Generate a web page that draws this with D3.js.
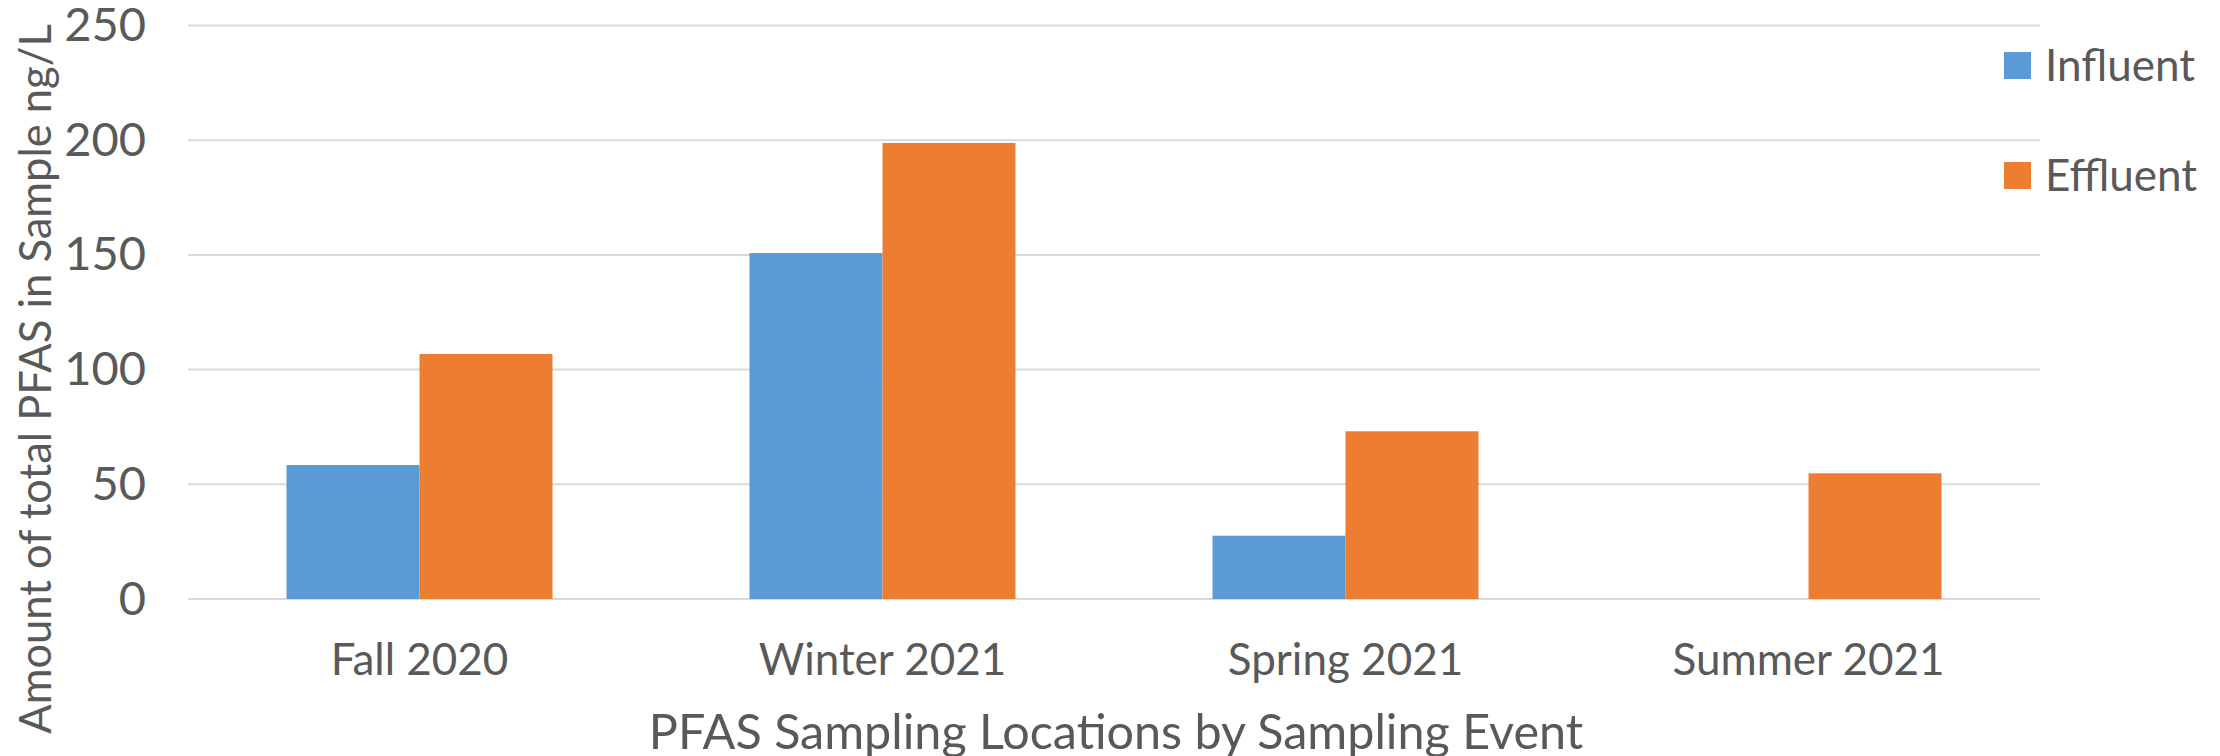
<!DOCTYPE html>
<html>
<head>
<meta charset="utf-8">
<script src="https://cdn.jsdelivr.net/npm/d3@7"></script>
<style>
  body { margin: 0; background: #fff; }
  text { font-family: Lato, "Open Sans", sans-serif; fill: #595959; }
</style>
</head>
<body>
<div id="chart"></div>
<script>
// data
var events = ["Fall 2020", "Winter 2021", "Spring 2021", "Summer 2021"];
var seriesNames = ["Influent", "Effluent"];
var influent = [58.4, 150.8, 27.6, null];
var effluent = [106.8, 198.8, 73.1, 54.8];
var yTicks = [0, 50, 100, 150, 200, 250];
var colors = ["#5b9bd5", "#ed7d31"];

var W = 2220, H = 756;
var margin = {top: 25.5, right: 180, bottom: 157, left: 188},
    width = W - margin.left - margin.right,
    height = H - margin.top - margin.bottom;

var svg = d3.select("#chart")
    .append("svg")
    .attr("width", W)
    .attr("height", H)
  .append("g")
    .attr("transform", "translate(" + margin.left + "," + margin.top + ")");

var x0 = d3.scaleBand()
    .domain(events)
    .range([0, width])
    .paddingInner(0.4255)
    .paddingOuter(0.4255 / 2);

var x1 = d3.scaleBand()
    .domain(seriesNames)
    .range([0, x0.bandwidth()]);

var y = d3.scaleLinear()
    .domain([0, 250])
    .range([height, 0]);

// gridlines
svg.append("g")
    .selectAll("line")
    .data(yTicks)
    .enter().append("line")
    .attr("x1", 0)
    .attr("x2", width)
    .attr("y1", function(d) { return y(d); })
    .attr("y2", function(d) { return y(d); })
    .attr("stroke", "#d9d9d9")
    .attr("stroke-width", 2);

// y axis labels
var yAxis = svg.append("g")
    .attr("transform", "translate(-42,0)")
    .call(d3.axisLeft(y).tickValues(yTicks).tickSize(0).tickPadding(0));
yAxis.select(".domain").remove();
yAxis.selectAll("text")
    .style("font-size", "47px")
    .attr("fill", "#595959")
    .attr("font-family", "Lato, sans-serif");

// bars
var rows = events.map(function(e, i) {
    return {event: e, values: [
        {key: "Influent", value: influent[i]},
        {key: "Effluent", value: effluent[i]}
    ]};
});

var group = svg.selectAll(".grp")
    .data(rows)
    .enter().append("g")
    .attr("class", "grp")
    .attr("transform", function(d) { return "translate(" + x0(d.event) + ",0)"; });

group.selectAll("rect")
    .data(function(d) { return d.values.filter(function(v) { return v.value != null; }); })
    .enter().append("rect")
    .attr("x", function(d) { return x1(d.key); })
    .attr("width", x1.bandwidth())
    .attr("y", function(d) { return y(d.value); })
    .attr("height", function(d) { return y(0) - y(d.value); })
    .attr("fill", function(d) { return colors[seriesNames.indexOf(d.key)]; });

// x axis labels
var xAxis = svg.append("g")
    .attr("transform", "translate(0," + height + ")")
    .call(d3.axisBottom(x0).tickSize(0).tickPadding(0));
xAxis.select(".domain").remove();
xAxis.selectAll("text")
    .attr("dy", null)
    .attr("y", 76)
    .style("font-size", "44px")
    .attr("fill", "#595959")
    .attr("font-family", "Lato, sans-serif");

// x axis title
svg.append("text")
    .attr("x", 1116 - margin.left)
    .attr("y", 749 - margin.top)
    .style("text-anchor", "middle")
    .style("font-size", "48.5px")
    .text("PFAS Sampling Locations by Sampling Event");

// y axis title
svg.append("text")
    .attr("transform", "translate(" + (51 - margin.left) + "," + (379 - margin.top) + ") rotate(-90)")
    .style("text-anchor", "middle")
    .style("font-size", "43.5px")
    .text("Amount of total PFAS in Sample ng/L");

// legend
var legend = svg.append("g")
    .attr("transform", "translate(" + (2004 - margin.left) + "," + (52 - margin.top) + ")");

var item = legend.selectAll("g")
    .data(seriesNames)
    .enter().append("g")
    .attr("transform", function(d, i) { return "translate(0," + (i * 110) + ")"; });

item.append("rect")
    .attr("width", 27)
    .attr("height", 27)
    .attr("fill", function(d, i) { return colors[i]; });

item.append("text")
    .attr("x", 41)
    .attr("y", 13.5)
    .attr("dy", "0.35em")
    .style("font-size", "44px")
    .text(function(d) { return d; });
</script>
</body>
</html>
